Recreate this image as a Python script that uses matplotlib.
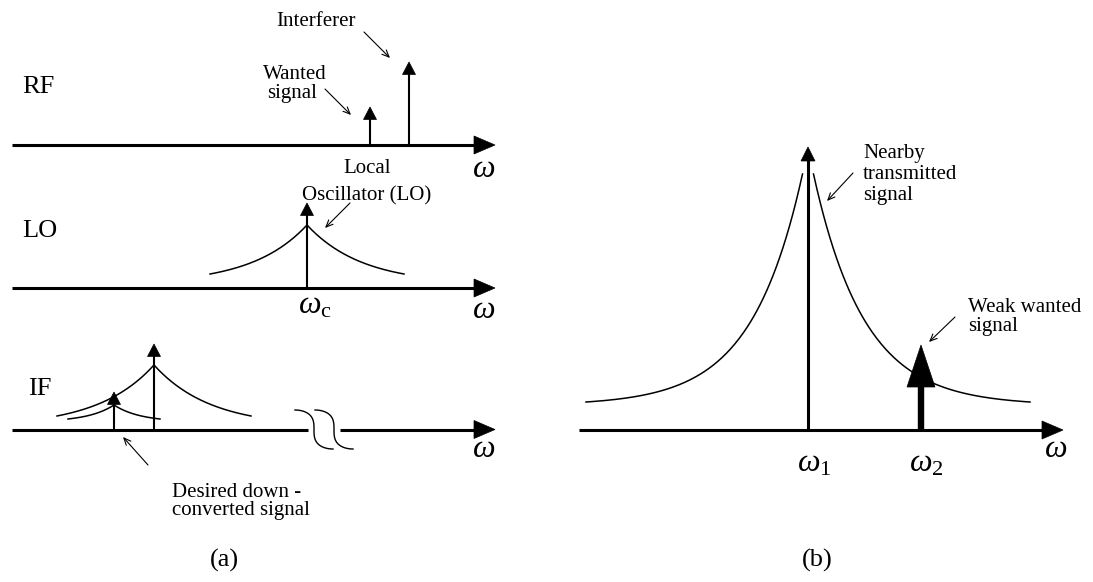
import numpy as np
import matplotlib
matplotlib.use("Agg")
import matplotlib.pyplot as plt
from matplotlib.patches import Polygon

plt.rcParams['font.family'] = ['Liberation Serif', 'DejaVu Serif']
plt.rcParams['mathtext.fontset'] = 'custom'
plt.rcParams['mathtext.rm'] = 'Liberation Serif'
plt.rcParams['mathtext.it'] = 'Liberation Serif:italic'

# ---------------- data (diagram coordinates in pixels) ----------------
# frequency axes: y level, x start, x end (arrow tip)
axis_y = [145, 288, 429.5, 430]
axis_x0 = [12, 12, 12, 579]
axis_x1 = [495, 495, 495, 1063]
if_break_x = [308, 340]

# spectral lines (impulses): x position, base y, tip y
spike_x = [370, 409, 307, 114, 154, 808]
spike_base = [145, 145, 288, 429.5, 429.5, 430]
spike_tip = [107, 62, 203, 392, 344, 147]
spike_lw = [1.5, 1.5, 1.5, 1.5, 1.5, 2.2]

# weak wanted signal (bold arrow) in (b)
weak_x = 921
weak_tip = 345

# phase-noise skirts: centre, baseline y, peak y, extent, decay, gap
skirt_c = [307, 154, 114, 808]
skirt_base = [274, 416, 419, 402]
skirt_peak = [225, 365, 405, 174]
skirt_ext = [97, 97, 46, 222]
skirt_decay = [55, 56, 26, 51]
skirt_gap = [0, 0, 0, 5.5]

row_labels = ["RF", "LO", "IF"]
row_label_xy = [(22, 93), (22, 237), (28, 395)]

# ---------------- figure ----------------
fig = plt.figure(figsize=(10.93, 5.82), dpi=100)
ax = fig.add_axes([0, 0, 1, 1])
ax.set_xlim(0, 1093)
ax.set_ylim(582, 0)
ax.axis('off')

K = 'black'


def head(x, tip, length, half, horizontal=False):
    if horizontal:
        pts = [(tip, x), (tip - length, x - half), (tip - length, x + half)]
    else:
        pts = [(x, tip), (x - half, tip + length), (x + half, tip + length)]
    ax.add_patch(Polygon(pts, closed=True, facecolor=K, edgecolor=K, lw=0.5))


# axes
for i, (y, x0, x1) in enumerate(zip(axis_y, axis_x0, axis_x1)):
    if i == 2:
        ax.plot([x0, if_break_x[0]], [y, y], color=K, lw=2.2, solid_capstyle='butt')
        ax.plot([if_break_x[1], x1 - 20], [y, y], color=K, lw=2.2, solid_capstyle='butt')
    else:
        ax.plot([x0, x1 - 20], [y, y], color=K, lw=2.2, solid_capstyle='butt')
    head(y, x1, 21, 9, horizontal=True)

# break symbol on IF axis
t = np.linspace(0, 1, 80)
for off in (0, 20):
    xs = 295 + off + 38 * (t + np.sin(2 * np.pi * t) / (2 * np.pi))
    ys = 410 + 39 * (1 - np.cos(np.pi * t)) / 2
    ax.plot(xs, ys, color=K, lw=1.0)

# skirts
for c, b, p, D, w, g in zip(skirt_c, skirt_base, skirt_peak, skirt_ext, skirt_decay, skirt_gap):
    H = b - p
    dx = np.linspace(g, D, 200)
    norm = 1 - np.exp(-(D - g) / w)
    h = H * (np.exp(-(dx - g) / w) - np.exp(-(D - g) / w)) / norm
    for s in (-1, 1):
        ax.plot(c + s * dx, b - h, color=K, lw=1.1)

# spikes
for i, (x, b0, tp, lw) in enumerate(zip(spike_x, spike_base, spike_tip, spike_lw)):
    big = i == 5
    hl = 14 if big else 12.5
    hw = 7 if big else 6.5
    ax.plot([x, x], [b0, tp + hl - 1], color=K, lw=lw, solid_capstyle='butt')
    head(x, tp, hl, hw)

# weak wanted signal: bold arrow
ax.plot([weak_x, weak_x], [axis_y[3], weak_tip + 40], color=K, lw=4.6, solid_capstyle='butt')
head(weak_x, weak_tip, 42, 14)

# annotation arrows
ann = [((364, 32), (390, 58)), ((325, 89), (351, 115)), ((350, 203), (325, 228)),
       ((148, 465), (123, 437)), ((853, 173), (827, 201)), ((955, 317), (929, 342))]
for start, end in ann:
    ax.annotate('', xy=end, xytext=start,
                arrowprops=dict(arrowstyle='->,head_length=0.5,head_width=0.22',
                                lw=0.8, color=K, shrinkA=0, shrinkB=0))

fs = 15
# text labels (x, baseline y, text, ha)
texts = [(316, 26, "Interferer", 'center'),
         (295, 79, "Wanted", 'center'), (292, 98, "signal", 'center'),
         (367, 173, "Local", 'center'), (367, 200, "Oscillator (LO)", 'center'),
         (172, 497, "Desired down -", 'left'), (172, 515, "converted signal", 'left'),
         (863, 158, "Nearby", 'left'), (863, 179, "transmitted", 'left'), (863, 200, "signal", 'left'),
         (968, 312, "Weak wanted", 'left'), (968, 331, "signal", 'left')]
for x, y, s, ha in texts:
    ax.text(x, y, s, fontsize=fs, ha=ha, va='baseline', color=K)

for lab, (x, y) in zip(row_labels, row_label_xy):
    ax.text(x, y, lab, fontsize=19, ha='left', va='baseline', color=K)

ax.text(224, 567, "(a)", fontsize=19, ha='center', va='baseline', color=K)
ax.text(817, 567, "(b)", fontsize=19, ha='center', va='baseline', color=K)

# omega labels
fo = 23
for x, y in [(484, 177), (484, 318), (484, 457), (1056, 457)]:
    ax.text(x, y, r'$\omega$', fontsize=fo, ha='center', va='baseline', color=K)
ax.text(298, 313, r'$\omega_{\mathrm{c}}$', fontsize=fo, ha='left', va='baseline', color=K)
ax.text(797, 471, r'$\omega_1$', fontsize=fo, ha='left', va='baseline', color=K)
ax.text(909, 471, r'$\omega_2$', fontsize=fo, ha='left', va='baseline', color=K)

fig.savefig('out.png', dpi=100)
